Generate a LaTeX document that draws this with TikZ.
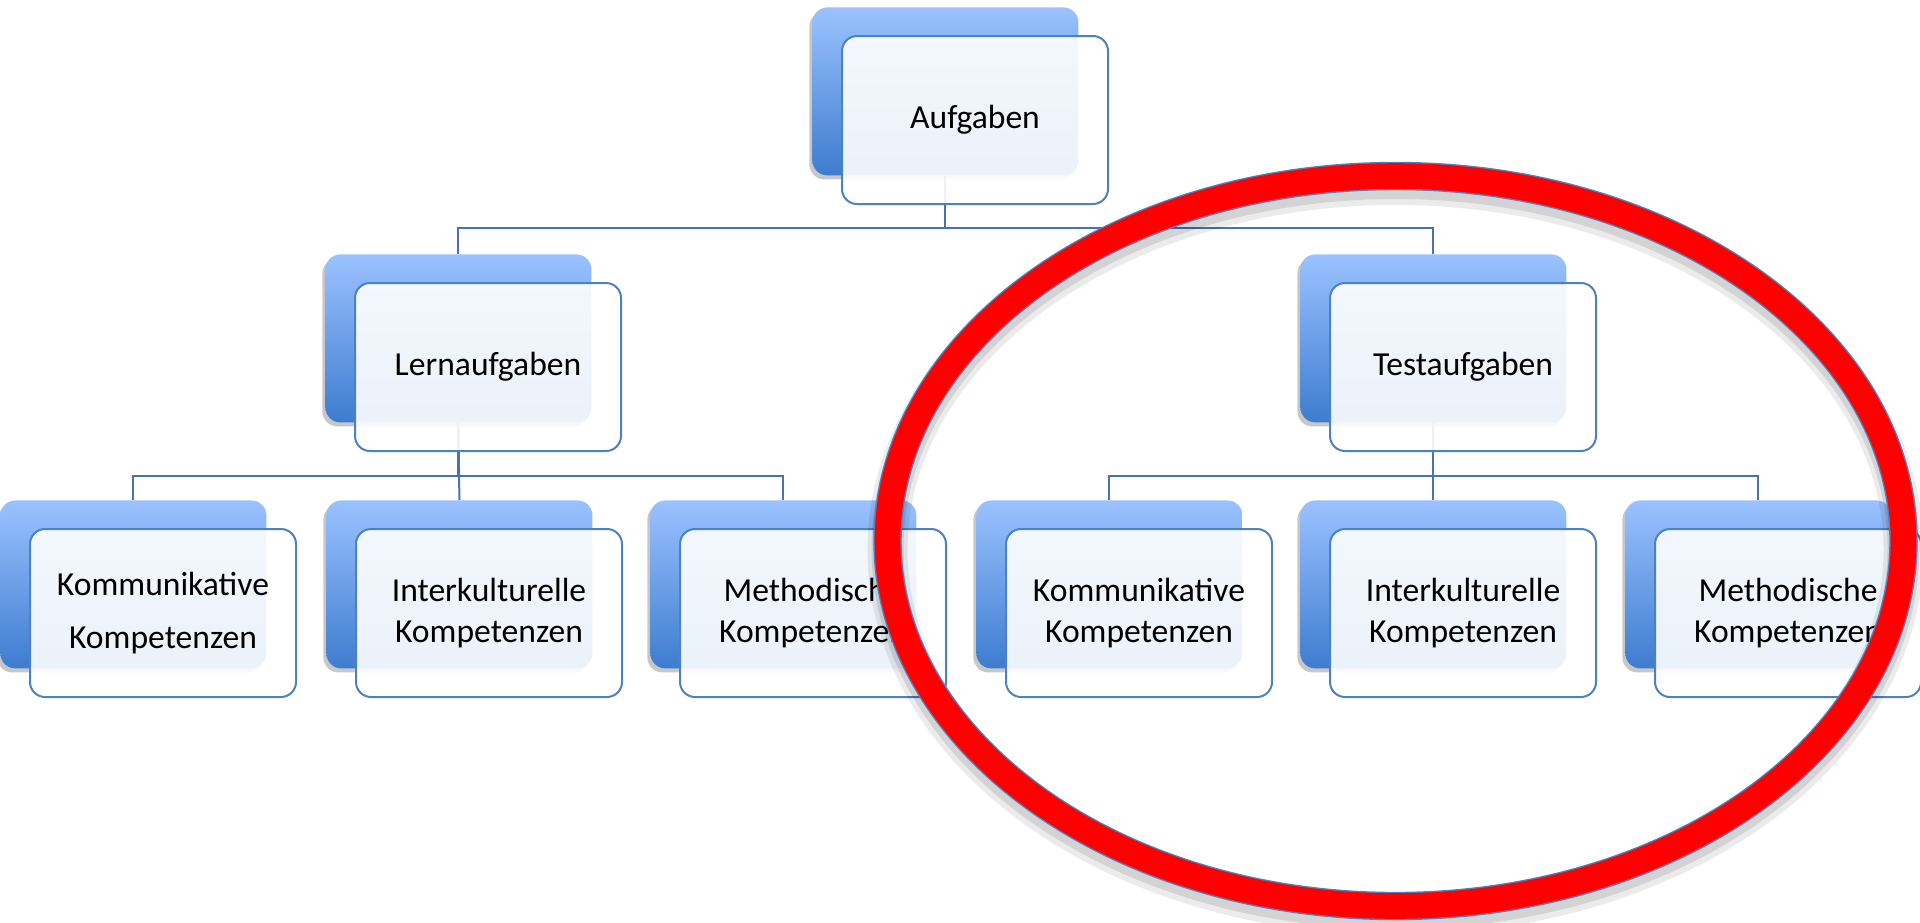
\documentclass[tikz,border=0pt]{standalone}
\usepackage{fontspec}
\setmainfont{Carlito}
\usetikzlibrary{shadows}
\definecolor{linec}{HTML}{4A72AC}
\definecolor{framec}{HTML}{4F81BD}
\definecolor{topc}{HTML}{9BC2FF}
\definecolor{botc}{HTML}{3E7CCF}
\definecolor{ringc}{HTML}{FF0000}
\begin{document}
\begin{tikzpicture}[x=0.5pt,y=-0.5pt,
  backbox/.style={rounded corners=7.5pt, top color=topc, bottom color=botc, draw=none,
    minimum width=133pt, minimum height=84pt, inner sep=0pt, anchor=north west,
    drop shadow={shadow xshift=-1.5pt, shadow yshift=-2pt, opacity=0.22, fill=black}},
  frontbox/.style={rounded corners=7.5pt, fill=white, fill opacity=0.9, text opacity=1,
    draw=framec, line width=1pt, minimum width=133pt, minimum height=84pt, inner sep=0pt,
    anchor=north west, align=center, font=\fontsize{16.8}{20.2}\selectfont},
  conn/.style={draw=linec, line width=1pt}]
\useasboundingbox (0,0) rectangle (1920,922);
\clip (0,0) rectangle (1920,922);
% back boxes
\node[backbox] (bA) at (812,7) {};
\node[backbox] (bL) at (325,254) {};
\node[backbox] (bT) at (1300,254) {};
\node[backbox] (b1) at (0,500) {};
\node[backbox] (b2) at (326,500) {};
\node[backbox] (b3) at (650,500) {};
\node[backbox] (b4) at (976,500) {};
\node[backbox] (b5) at (1300,500) {};
\node[backbox] (b6) at (1625,500) {};
% connectors
\draw[conn] (bA.south) -- ++(0,52) -| (bL.north);
\draw[conn] (bA.south) -- ++(0,52) -| (bT.north);
\draw[conn] (bL.south) -- ++(0,53) -| (b1.north);
\draw[conn] (bL.south) -- (b2.north);
\draw[conn] (bL.south) -- ++(0,53) -| (b3.north);
\draw[conn] (bT.south) -- ++(0,53) -| (b4.north);
\draw[conn] (bT.south) -- (b5.north);
\draw[conn] (bT.south) -- ++(0,53) -| (b6.north);
% front boxes
\node[frontbox] (fA) at (841,35) {Aufgaben};
\node[frontbox] (fL) at (354,282) {Lernaufgaben};
\node[frontbox] (fT) at (1329,282) {Testaufgaben};
\node[frontbox] (f1) at (29,528) {Kommunikative\\[6pt]Kompetenzen};
\node[frontbox] (f2) at (355,528) {Interkulturelle\\Kompetenzen};
\node[frontbox] (f3) at (679,528) {Methodische\\Kompetenzen};
\node[frontbox] (f4) at (1005,528) {Kommunikative\\Kompetenzen};
\node[frontbox] (f5) at (1329,528) {Interkulturelle\\Kompetenzen};
\node[frontbox] (f6) at (1654,528) {Methodische\\Kompetenzen};
% red ring
\coordinate (ec) at (1395.5,541);
\draw[black, opacity=0.10, line width=16pt] ([yshift=-3.5pt]ec) ellipse [x radius=254pt, y radius=182.5pt];
\draw[black, opacity=0.08, line width=20pt] ([yshift=-4.5pt]ec) ellipse [x radius=254pt, y radius=182.5pt];
\draw[framec, line width=14.2pt] (ec) ellipse [x radius=254pt, y radius=182.5pt];
\draw[ringc, line width=12.8pt] (ec) ellipse [x radius=254pt, y radius=182.5pt];
\end{tikzpicture}
\end{document}
